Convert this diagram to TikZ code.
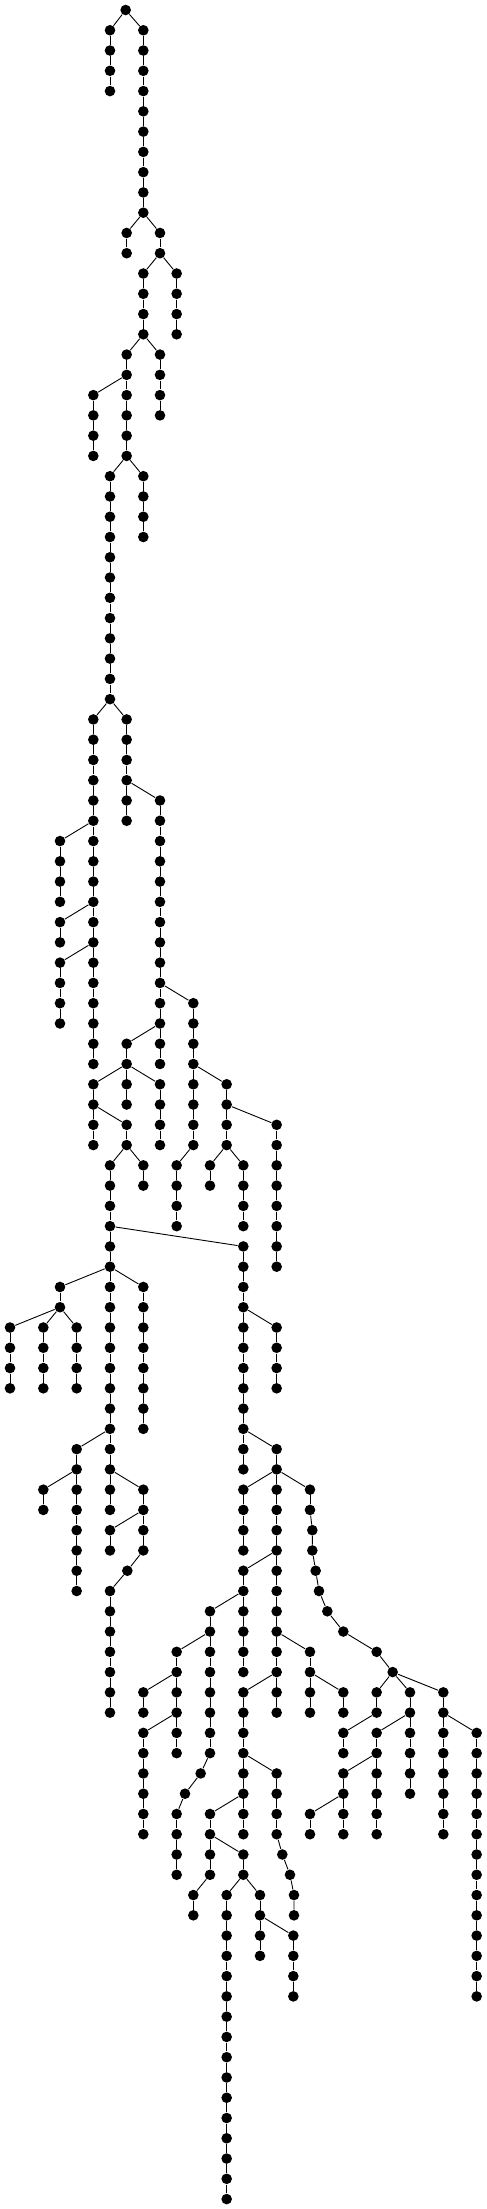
\documentclass[tikz,border=0pt]{standalone}
\usepackage{tikz}
\tikzset{>=latex}
\tikzset{dot/.style={circle, fill=black, inner sep=0pt, minimum size=10.6pt}}
% vertical run of dots: column, first level, last level, parent node
\newcommand{\vchain}[4]{%
  \foreach \l in {#2,...,#3} {\node[dot] (v#1-\l) at (#1,\l) {};}
  \draw (#4) -- (v#1-#2);
  \foreach \l [remember=\l as \k (initially #2)] in {#2,...,#3} {\ifnum\l>#2 \draw (v#1-\k) -- (v#1-\l);\fi}%
}

\begin{document}
\begin{tikzpicture}[x=16.667pt, y=-20.27pt, line width=0.9pt]
\useasboundingbox (-0.6,-0.4933) rectangle (28.62,108.49);
\node[dot] (v7-0) at (6.94,0) {};
\vchain{6}{1}{4}{v7-0}
\vchain{8}{1}{10}{v7-0}
\vchain{7}{11}{12}{v8-10}
\vchain{9}{11}{12}{v8-10}
\vchain{8}{13}{16}{v9-12}
\vchain{10}{13}{16}{v9-12}
\vchain{7}{17}{22}{v8-16}
\vchain{9}{17}{20}{v8-16}
\vchain{5}{19}{22}{v7-18}
\vchain{6}{23}{34}{v7-22}
\vchain{8}{23}{26}{v7-22}
\vchain{5}{35}{52}{v6-34}
\vchain{7}{35}{40}{v6-34}
\vchain{3}{41}{44}{v5-40}
\vchain{3}{45}{46}{v5-44}
\vchain{3}{47}{50}{v5-46}
\vchain{9}{39}{52}{v7-38}
\vchain{11}{49}{56}{v9-48}
\vchain{7}{51}{54}{v9-50}
\vchain{5}{53}{56}{v7-52}
\vchain{9}{53}{56}{v7-52}
\vchain{7}{55}{56}{v5-54}
\vchain{6}{57}{74}{v7-56}
\vchain{8}{57}{58}{v7-56}
\vchain{10}{57}{60}{v11-56}
\vchain{13}{53}{56}{v11-52}
\vchain{16}{55}{62}{v13-54}
\vchain{12}{57}{58}{v13-56}
\vchain{14}{57}{60}{v13-56}
\vchain{14}{61}{72}{v6-60}
\vchain{3}{63}{64}{v6-62}
\vchain{8}{63}{70}{v6-62}
\vchain{0}{65}{68}{v3-64}
\vchain{2}{65}{68}{v3-64}
\vchain{4}{65}{68}{v3-64}
\vchain{16}{65}{68}{v14-64}
\vchain{4}{71}{78}{v6-70}
\vchain{2}{73}{74}{v4-72}
\vchain{8}{73}{76}{v6-72}
\vchain{6}{75}{76}{v8-74}
\node[dot] (v7-77) at (7.04,77) {};
\draw (v8-76) -- (v7-77);
\vchain{6}{78}{84}{v7-77}
\vchain{16}{71}{84}{v14-70}
\vchain{14}{73}{76}{v16-72}
\vchain{18}{73}{74}{v16-72}
\vchain{14}{77}{82}{v16-76}
\vchain{12}{79}{86}{v14-78}
\vchain{10}{81}{86}{v12-80}
\vchain{8}{83}{84}{v10-82}
\vchain{8}{85}{90}{v10-84}
% bent run down to the left
\node[dot] (b87) at (11.44,87) {};
\node[dot] (b88) at (10.5,88) {};
\draw (v12-86) -- (b87) -- (b88);
\vchain{10}{89}{92}{b88}
\vchain{18}{81}{84}{v16-80}
\vchain{20}{83}{84}{v18-82}
\vchain{14}{83}{90}{v16-82}
\vchain{16}{87}{90}{v14-86}
% bent run down to the right
\node[dot] (s91) at (16.34,91) {};
\node[dot] (s92) at (16.8,92) {};
\node[dot] (s93) at (17.04,93) {};
\node[dot] (s94) at (17.04,94) {};
\draw (v16-90) -- (s91) -- (s92) -- (s93) -- (s94);
\vchain{12}{89}{92}{v14-88}
\vchain{14}{91}{92}{v12-90}
\vchain{11}{93}{94}{v12-92}
\vchain{13}{93}{108}{v14-92}
\vchain{15}{93}{96}{v14-92}
\vchain{17}{95}{98}{v15-94}
% long bent run to the right side
\node[dot] (t75) at (18.14,75) {};
\node[dot] (t76) at (18.14,76) {};
\node[dot] (t77) at (18.34,77) {};
\node[dot] (t78) at (18.54,78) {};
\node[dot] (t79) at (19.04,79) {};
\node[dot] (t80) at (20,80) {};
\node[dot] (t81) at (22,81) {};
\node[dot] (t82) at (22.96,82) {};
\draw (v18-74) -- (t75) -- (t76) -- (t77) -- (t78) -- (t79) -- (t80) -- (t81) -- (t82);
\vchain{22}{83}{84}{t82}
\vchain{24}{83}{88}{t82}
\vchain{26}{83}{90}{t82}
\vchain{20}{85}{86}{v22-84}
\vchain{22}{85}{90}{v24-84}
\vchain{20}{87}{90}{v22-86}
\vchain{18}{89}{90}{v20-88}
\vchain{28}{85}{98}{v26-84}
\end{tikzpicture}
\end{document}
